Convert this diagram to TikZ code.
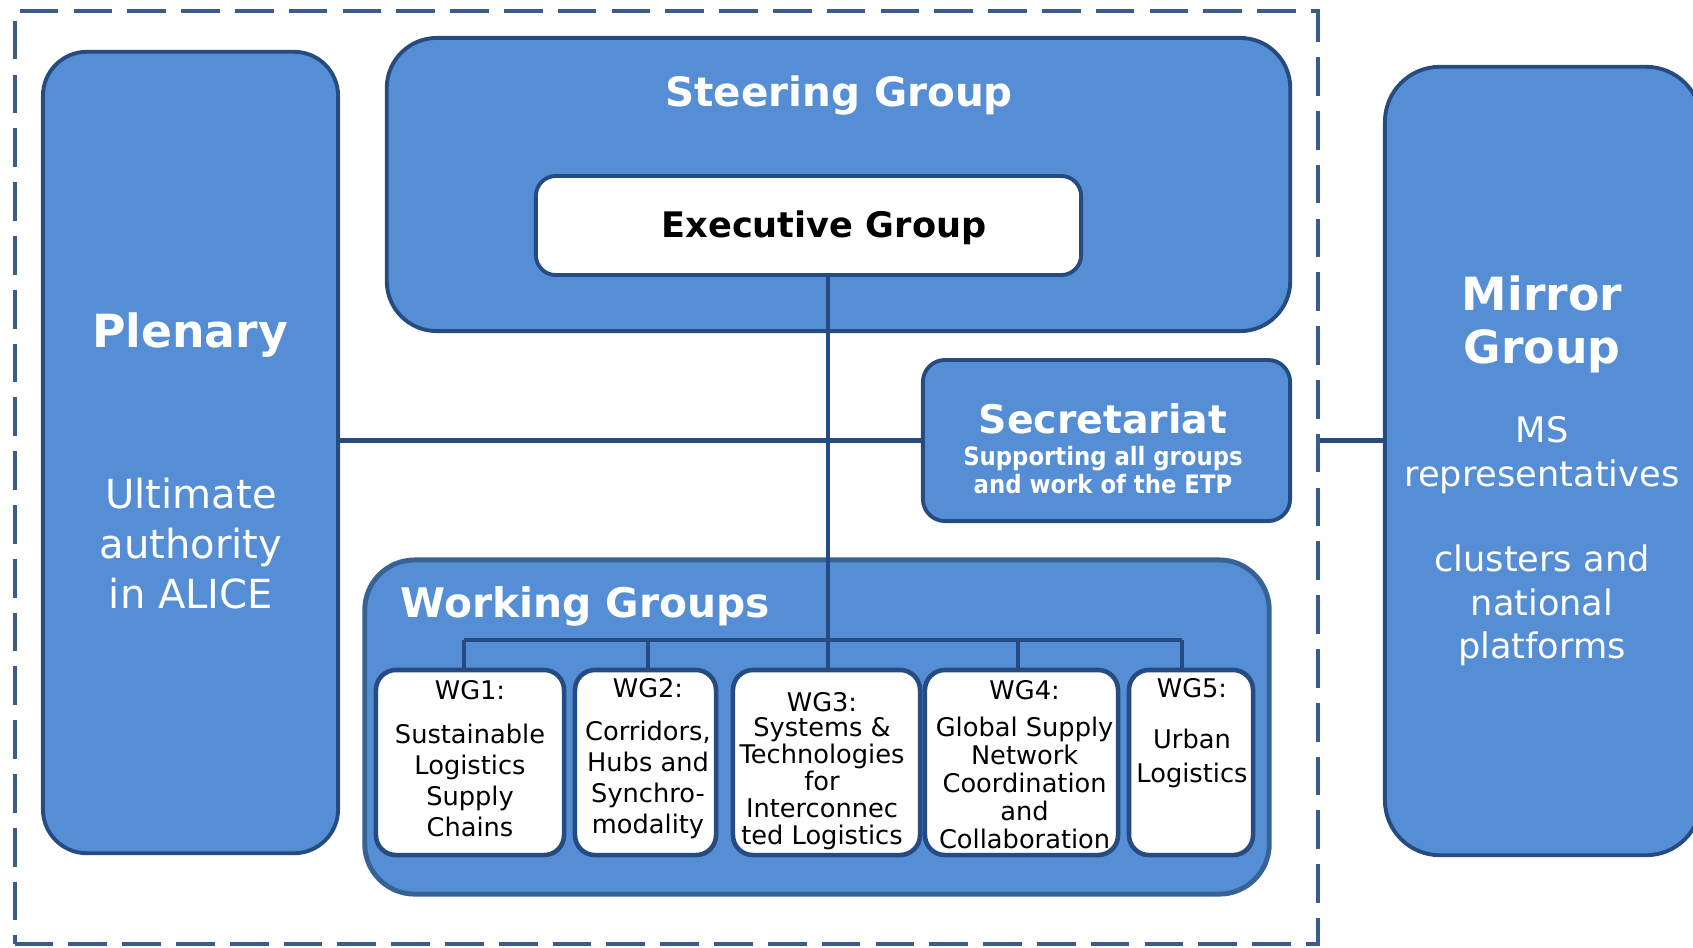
\documentclass[tikz,border=0pt]{standalone}
\usepackage{fontspec}
\setmainfont{DejaVu Sans}
\newfontfamily\condensed{DejaVu Sans Condensed}
\definecolor{boxblue}{RGB}{85,142,213}
\definecolor{boxline}{RGB}{37,75,128}
\definecolor{wgline}{RGB}{54,98,150}
\definecolor{frameline}{RGB}{59,92,138}
\begin{document}
\begin{tikzpicture}[x=0.01cm,y=-0.01cm]
  \clip (0,0) rectangle (1693,947);
  \node[draw=frameline, line width=1.1pt, dash pattern=on 11pt off 4.3pt,
        minimum width=13.03cm, minimum height=9.33cm, inner sep=0] (etp) at (666.5,477.5) {};
  \begin{scope}[every node/.style={draw=boxline,fill=boxblue,line width=1.1pt,inner sep=0}]
  \node[minimum width=2.95cm, minimum height=8.01cm, rounded corners=0.44cm] (plenary) at (190.5,452.5) {};
  \node[minimum width=9.03cm, minimum height=2.93cm, rounded corners=0.5cm] (steering) at (838.5,184.5) {};
  \node[fill=white, minimum width=5.45cm, minimum height=0.99cm, rounded corners=0.2cm] (exec) at (808.5,225.5) {};
  \node[minimum width=3.67cm, minimum height=1.61cm, rounded corners=0.22cm] (secr) at (1106.5,440.5) {};
  \node[draw=wgline, line width=1.4pt, minimum width=9.04cm, minimum height=3.34cm, rounded corners=0.5cm] (wgs) at (817,727) {};
  \node[minimum width=3.16cm, minimum height=7.88cm, rounded corners=0.55cm] (mirror) at (1543,461) {};
  \node[fill=white, line width=1.3pt, minimum width=1.88cm, minimum height=1.85cm, rounded corners=0.2cm] (wg1) at (470,762.5) {};
  \node[fill=white, line width=1.3pt, minimum width=1.41cm, minimum height=1.85cm, rounded corners=0.2cm] (wg2) at (645.5,762.5) {};
  \node[fill=white, line width=1.3pt, minimum width=1.87cm, minimum height=1.85cm, rounded corners=0.2cm] (wg3) at (826.5,762.5) {};
  \node[fill=white, line width=1.3pt, minimum width=1.93cm, minimum height=1.85cm, rounded corners=0.2cm] (wg4) at (1021.5,762.5) {};
  \node[fill=white, line width=1.3pt, minimum width=1.24cm, minimum height=1.85cm, rounded corners=0.2cm] (wg5) at (1191,762.5) {};
  \end{scope}
  \begin{scope}[every edge/.style={draw=boxline,line width=1.2pt}]
  \coordinate (bus) at (828,640);
  \path ([xshift=0.015cm]wg3.north) edge ([xshift=0.015cm]wg3.north |- exec.south);
  \path (secr.west) edge (secr.west -| plenary.east);
  \path (mirror.west |- secr.east) edge (etp.east |- secr.east);
  \path ([xshift=-0.06cm]wg1.north |- bus) edge ([xshift=-0.09cm]wg5.north |- bus);
  \path ([xshift=-0.06cm]wg1.north) edge ([xshift=-0.06cm]wg1.north |- bus);
  \path ([xshift=0.025cm]wg2.north) edge ([xshift=0.025cm]wg2.north |- bus);
  \path ([xshift=-0.035cm]wg4.north) edge ([xshift=-0.035cm]wg4.north |- bus);
  \path ([xshift=-0.09cm]wg5.north) edge ([xshift=-0.09cm]wg5.north |- bus);
  \end{scope}
  \begin{scope}[every node/.style={text=white,inner sep=0,align=center}]
  \node[font=\fontsize{13}{15}\selectfont\bfseries, anchor=base] (plenarytitle) at (190,347) {Plenary};
  \node[font=\fontsize{11.4}{14.2}\selectfont, anchor=north] (plenarytext) at (191,477) {Ultimate\\authority\\in ALICE};
  \node[font=\fontsize{11.5}{13}\selectfont\bfseries, anchor=base] (steeringtitle) at (839,106) {Steering Group};
  \node[text=black, font=\fontsize{10}{12}\selectfont\bfseries, anchor=base] (exectitle) at (824,237.5) {Executive Group};
  \node[font=\fontsize{11.2}{13}\selectfont\bfseries, anchor=base] (secrtitle) at (1103,433) {Secretariat};
  \node[font=\condensed\fontsize{7.2}{7.7}\selectfont\bfseries, anchor=north] (secrtext) at (1103,446) {Supporting all groups\\and work of the ETP};
  \node[font=\fontsize{11.6}{13}\selectfont\bfseries, anchor=base west] (wgstitle) at (400,617.6) {Working Groups};
  \node[font=\fontsize{13}{15}\selectfont\bfseries, anchor=north] (mirrortitle) at (1542,275) {Mirror\\Group};
  \node[font=\fontsize{10}{12.4}\selectfont, anchor=north] (mirrortext) at (1542,416) {MS\\representatives\\[11.8pt]clusters and\\national\\platforms};
  \end{scope}
  \begin{scope}[every node/.style={text=black,inner sep=0,align=center,anchor=north}]
  \node[font=\fontsize{7.3}{8.8}\selectfont] (wg1text) at (470,679.5) {WG1:\\[3.7pt]Sustainable\\Logistics\\Supply\\Chains};
  \node[font=\fontsize{7.3}{8.8}\selectfont] (wg2text) at (648,677.5) {WG2:\\[3.4pt]Corridors,\\Hubs and\\Synchro-\\modality};
  \node[font=\fontsize{7.3}{7.7}\selectfont] (wg3text) at (822,691.5) {WG3:\\[-0.5pt]Systems \&\\Technologies\\for\\Interconnec\\ted Logistics};
  \node[font=\fontsize{7.3}{7.9}\selectfont] (wg4text) at (1024.6,679.5) {WG4:\\[2.8pt]Global Supply\\Network\\Coordination\\and\\Collaboration};
  \node[font=\fontsize{7.3}{9.7}\selectfont] (wg5text) at (1192,677.5) {WG5:\\[4.8pt]Urban\\Logistics};
  \end{scope}
\end{tikzpicture}
\end{document}
